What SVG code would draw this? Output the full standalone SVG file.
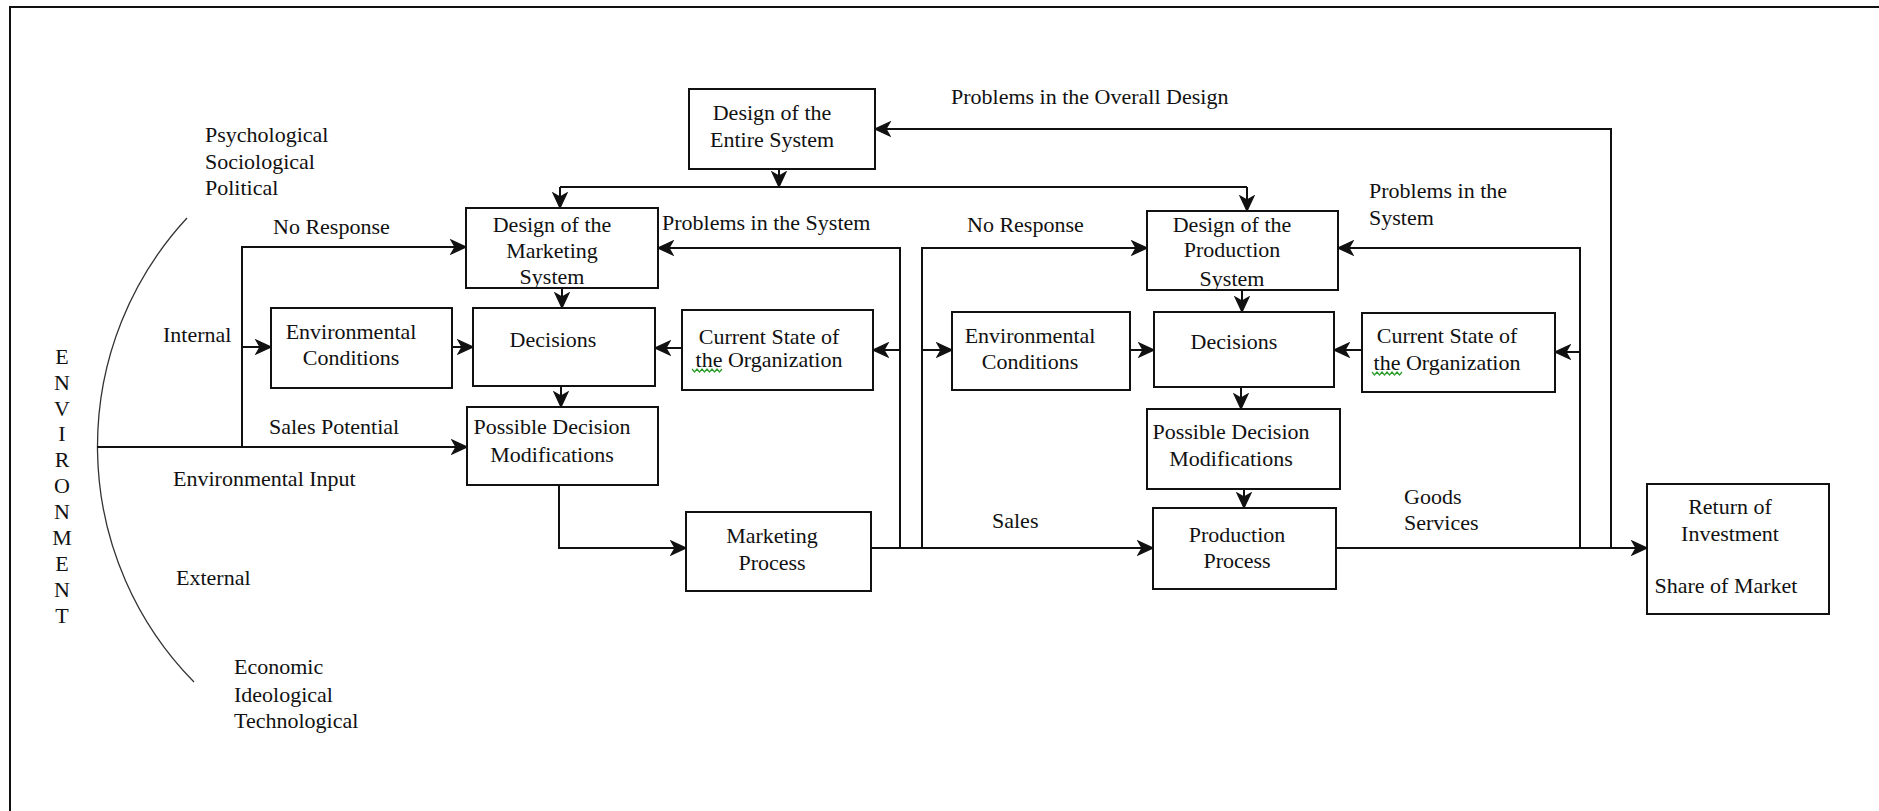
<svg xmlns="http://www.w3.org/2000/svg" width="1879" height="811" viewBox="0 0 1879 811">
<defs>
<marker id="ah" markerUnits="userSpaceOnUse" markerWidth="16" markerHeight="16" viewBox="0 0 16 16" refX="16" refY="8" orient="auto">
<path d="M16,8 L1,1 L5,8 L1,15 Z" fill="#111" stroke="#111" stroke-width="1.2" stroke-linejoin="miter"/>
</marker>
<style>
.bx{fill:#fff;stroke:#111;stroke-width:2}
.ln{fill:none;stroke:#111;stroke-width:2}
.ar{fill:none;stroke:#111;stroke-width:2;marker-end:url(#ah)}
text{font-family:"Liberation Serif","Times New Roman",serif;font-size:22px;fill:#111}
.c{text-anchor:middle}
.sq{fill:none;stroke:#2a9d2a;stroke-width:1.2}
</style>
</defs>
<rect width="1879" height="811" fill="#fff"/>
<g id="frame">
<path class="ln" d="M10,811 L10,7 L1879,7" stroke-width="2.5"/>
</g>
<g id="environment">
<path d="M187,218 A336,336 0 0 0 194,682" fill="none" stroke="#333" stroke-width="1.3"/>
<g class="c">
<text x="62" y="364">E</text>
<text x="62" y="390">N</text>
<text x="62" y="416">V</text>
<text x="62" y="441">I</text>
<text x="62" y="467">R</text>
<text x="62" y="493">O</text>
<text x="62" y="519">N</text>
<text x="62" y="545">M</text>
<text x="62" y="571">E</text>
<text x="62" y="597">N</text>
<text x="62" y="623">T</text>
</g>
<text x="205" y="142">Psychological</text>
<text x="205" y="169">Sociological</text>
<text x="205" y="195">Political</text>
<text x="163" y="342">Internal</text>
<text x="173" y="486">Environmental Input</text>
<text x="176" y="585">External</text>
<text x="234" y="674">Economic</text>
<text x="234" y="702">Ideological</text>
<text x="234" y="728">Technological</text>
</g>
<g id="connectors">
<path class="ar" d="M779,169 L779,187"/>
<path class="ln" d="M560,187 L1247,187"/>
<path class="ar" d="M560,187 L560,208"/>
<path class="ar" d="M1247,187 L1247,211"/>
<path class="ar" d="M242,448 L242,247 L466,247"/>
<path class="ar" d="M242,347 L271,347"/>
<path class="ar" d="M97,447 L467,447"/>
<path class="ar" d="M452,347 L473,347"/>
<path class="ar" d="M562,288 L562,308"/>
<path class="ar" d="M682,348 L655,348"/>
<path class="ar" d="M561,386 L561,407"/>
<path class="ar" d="M559,485 L559,548 L686,548"/>
<path class="ar" d="M871,548 L1153,548"/>
<path class="ar" d="M900,548 L900,248 L658,248"/>
<path class="ar" d="M900,350 L873,350"/>
<path class="ar" d="M922,548 L922,248 L1147,248"/>
<path class="ar" d="M922,350 L952,350"/>
<path class="ar" d="M1130,350 L1154,350"/>
<path class="ar" d="M1242,290 L1242,312"/>
<path class="ar" d="M1362,350 L1334,350"/>
<path class="ar" d="M1241,387 L1241,409"/>
<path class="ar" d="M1244,489 L1244,508"/>
<path class="ar" d="M1336,548 L1647,548"/>
<path class="ar" d="M1580,548 L1580,248 L1338,248"/>
<path class="ar" d="M1580,352 L1555,352"/>
<path class="ar" d="M1611,548 L1611,129 L875,129"/>
<text x="951" y="104">Problems in the Overall Design</text>
<text x="662" y="230">Problems in the System</text>
<text x="273" y="234">No Response</text>
<text x="269" y="434">Sales Potential</text>
<text x="967" y="232">No Response</text>
<text x="1369" y="198">Problems in the</text>
<text x="1369" y="225">System</text>
<text x="992" y="528">Sales</text>
<text x="1404" y="504">Goods</text>
<text x="1404" y="530">Services</text>
</g>
<g id="entire-system">
<rect class="bx" x="689" y="89" width="186" height="80"/>
<text class="c" x="772" y="120">Design of the</text>
<text class="c" x="772" y="147">Entire System</text>
</g>
<g id="marketing-design">
<rect class="bx" x="466" y="208" width="192" height="80"/>
<text class="c" x="552" y="232">Design of the</text>
<text class="c" x="552" y="258">Marketing</text>
<text class="c" x="552" y="284">System</text>
</g>
<g id="marketing-env">
<rect class="bx" x="271" y="308" width="181" height="80"/>
<text class="c" x="351" y="339">Environmental</text>
<text class="c" x="351" y="365">Conditions</text>
</g>
<g id="marketing-decisions">
<rect class="bx" x="473" y="308" width="182" height="78"/>
<text class="c" x="553" y="347">Decisions</text>
</g>
<g id="marketing-state">
<rect class="bx" x="682" y="310" width="191" height="80"/>
<text class="c" x="769" y="344">Current State of</text>
<text class="c" x="769" y="367">the Organization</text>
<path class="sq" d="M692,369 l2.5,3 l2.5,-3 l2.5,3 l2.5,-3 l2.5,3 l2.5,-3 l2.5,3 l2.5,-3 l2.5,3 l2.5,-3 l2.5,3 l2.5,-3"/>
</g>
<g id="marketing-pdm">
<rect class="bx" x="467" y="407" width="191" height="78"/>
<text class="c" x="552" y="434">Possible Decision</text>
<text class="c" x="552" y="462">Modifications</text>
</g>
<g id="marketing-process">
<rect class="bx" x="686" y="512" width="185" height="79"/>
<text class="c" x="772" y="543">Marketing</text>
<text class="c" x="772" y="570">Process</text>
</g>
<g id="production-design">
<rect class="bx" x="1147" y="211" width="191" height="79"/>
<text class="c" x="1232" y="232">Design of the</text>
<text class="c" x="1232" y="257">Production</text>
<text class="c" x="1232" y="286">System</text>
</g>
<g id="production-env">
<rect class="bx" x="952" y="312" width="178" height="78"/>
<text class="c" x="1030" y="343">Environmental</text>
<text class="c" x="1030" y="369">Conditions</text>
</g>
<g id="production-decisions">
<rect class="bx" x="1154" y="312" width="180" height="75"/>
<text class="c" x="1234" y="349">Decisions</text>
</g>
<g id="production-state">
<rect class="bx" x="1362" y="313" width="193" height="79"/>
<text class="c" x="1447" y="343">Current State of</text>
<text class="c" x="1447" y="370">the Organization</text>
<path class="sq" d="M1372,372 l2.5,3 l2.5,-3 l2.5,3 l2.5,-3 l2.5,3 l2.5,-3 l2.5,3 l2.5,-3 l2.5,3 l2.5,-3 l2.5,3 l2.5,-3"/>
</g>
<g id="production-pdm">
<rect class="bx" x="1147" y="409" width="193" height="80"/>
<text class="c" x="1231" y="439">Possible Decision</text>
<text class="c" x="1231" y="466">Modifications</text>
</g>
<g id="production-process">
<rect class="bx" x="1153" y="508" width="183" height="81"/>
<text class="c" x="1237" y="542">Production</text>
<text class="c" x="1237" y="568">Process</text>
</g>
<g id="return">
<rect class="bx" x="1647" y="484" width="182" height="130"/>
<text class="c" x="1730" y="514">Return of</text>
<text class="c" x="1730" y="541">Investment</text>
<text class="c" x="1726" y="593">Share of Market</text>
</g>
</svg>
